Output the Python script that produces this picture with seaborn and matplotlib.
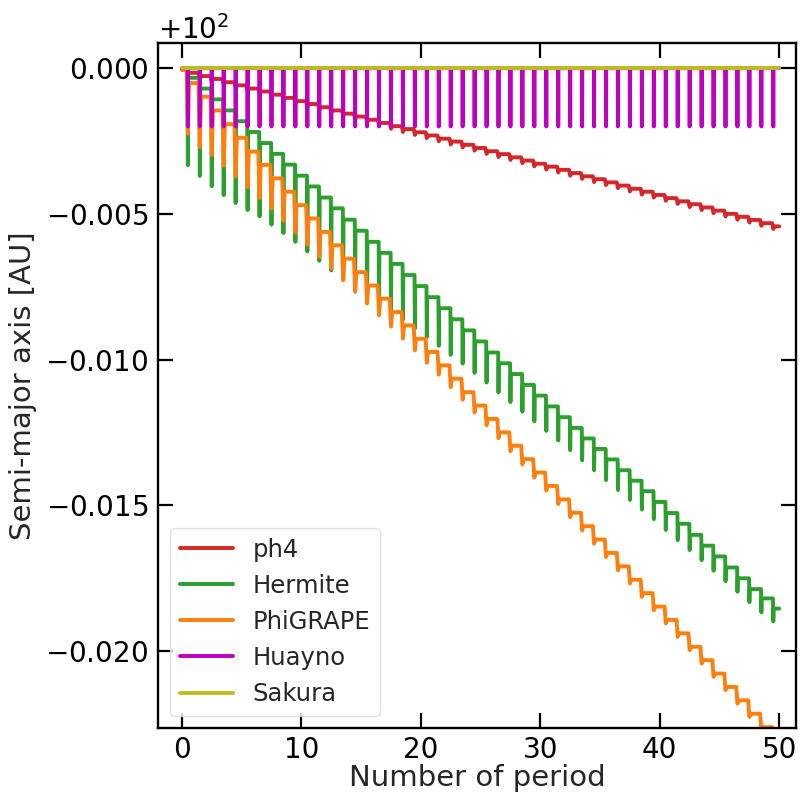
import numpy as np
import matplotlib
matplotlib.use("Agg")
import matplotlib.pyplot as plt
from matplotlib.ticker import ScalarFormatter, MultipleLocator
import seaborn as sns

# semi-major axis minus 100 AU, in units of 1e-3 AU
# *_level: plateau value during orbital period k (51 values, k = 0..50)
# *_dip:   bottom of the pericentre spike between plateau k and k+1 (50 values)
ph4_level = [-0.05, -0.16, -0.27, -0.37, -0.48, -0.59, -0.70, -0.80, -0.91, -1.02,
             -1.13, -1.23, -1.34, -1.45, -1.56, -1.66, -1.77, -1.88, -1.99, -2.09,
             -2.20, -2.31, -2.42, -2.52, -2.63, -2.74, -2.85, -2.95, -3.06, -3.17,
             -3.28, -3.38, -3.49, -3.60, -3.71, -3.81, -3.92, -4.03, -4.14, -4.24,
             -4.35, -4.46, -4.57, -4.67, -4.78, -4.89, -5.00, -5.10, -5.21, -5.32,
             -5.43]
ph4_dip = [-0.25, -0.36, -0.47, -0.57, -0.68, -0.79, -0.90, -1.00, -1.11, -1.22,
           -1.33, -1.43, -1.54, -1.65, -1.76, -1.86, -1.97, -2.08, -2.19, -2.29,
           -2.40, -2.51, -2.62, -2.72, -2.83, -2.94, -3.05, -3.15, -3.26, -3.37,
           -3.48, -3.58, -3.69, -3.80, -3.91, -4.01, -4.12, -4.23, -4.34, -4.44,
           -4.55, -4.66, -4.77, -4.87, -4.98, -5.09, -5.20, -5.30, -5.41, -5.52]

hermite_level = [-0.02, -0.33, -0.70, -1.07, -1.45, -1.82, -2.19, -2.57, -2.94, -3.31,
                 -3.69, -4.06, -4.44, -4.81, -5.20, -5.58, -5.96, -6.34, -6.72, -7.10,
                 -7.48, -7.86, -8.24, -8.62, -9.00, -9.38, -9.76, -10.13, -10.50, -10.87,
                 -11.24, -11.61, -11.98, -12.35, -12.71, -13.07, -13.43, -13.80, -14.16, -14.52,
                 -14.89, -15.27, -15.64, -16.02, -16.39, -16.76, -17.14, -17.51, -17.88, -18.20,
                 -18.55]
hermite_dip = [-3.33, -3.70, -4.05, -4.36, -4.63, -4.87, -5.09, -5.37, -5.66, -5.96,
               -6.29, -6.61, -6.94, -7.26, -7.58, -7.83, -8.09, -8.36, -8.64, -8.93,
               -9.23, -9.53, -9.84, -10.14, -10.46, -10.79, -11.13, -11.46, -11.79, -12.12,
               -12.45, -12.78, -13.11, -13.46, -13.80, -14.14, -14.48, -14.82, -15.15, -15.48,
               -15.85, -16.20, -16.54, -16.89, -17.25, -17.61, -17.97, -18.33, -18.68, -18.99]

phigrape_level = [-0.05, -0.51, -0.98, -1.45, -1.92, -2.39, -2.86, -3.32, -3.78, -4.24,
                  -4.70, -5.16, -5.62, -6.08, -6.54, -7.00, -7.46, -7.91, -8.37, -8.83,
                  -9.29, -9.74, -10.20, -10.66, -11.12, -11.58, -12.04, -12.50, -12.96, -13.42,
                  -13.88, -14.34, -14.80, -15.26, -15.72, -16.18, -16.64, -17.10, -17.56, -18.02,
                  -18.48, -18.94, -19.40, -19.86, -20.32, -20.78, -21.24, -21.70, -22.16, -22.62,
                  -23.08]
phigrape_dip = [-2.25, -2.71, -2.98, -3.35, -3.72, -4.09, -4.46, -4.82, -5.23, -5.64,
                -6.06, -6.48, -6.88, -7.28, -7.68, -8.08, -8.48, -8.87, -9.28, -9.69,
                -10.11, -10.52, -10.95, -11.38, -11.82, -12.26, -12.70, -13.15, -13.60, -14.05,
                -14.50, -14.96, -15.41, -15.87, -16.32, -16.78, -17.24, -17.69, -18.15, -18.61,
                -19.06, -19.52, -19.98, -20.44, -20.89, -21.35, -21.81, -22.27, -22.73, -23.19]

huayno_level = [0.0, 0.0, 0.0, 0.0, 0.0, 0.0, 0.0, 0.0, 0.0, 0.0,
                0.0, 0.0, 0.0, 0.0, 0.0, 0.0, 0.0, 0.0, 0.0, 0.0,
                0.0, 0.0, 0.0, 0.0, 0.0, 0.0, 0.0, 0.0, 0.0, 0.0,
                0.0, 0.0, 0.0, 0.0, 0.0, 0.0, 0.0, 0.0, 0.0, 0.0,
                0.0, 0.0, 0.0, 0.0, 0.0, 0.0, 0.0, 0.0, 0.0, 0.0,
                0.0]
huayno_dip = [-2.0, -2.0, -2.0, -2.0, -2.0, -2.0, -2.0, -2.0, -2.0, -2.0,
              -2.0, -2.0, -2.0, -2.0, -2.0, -2.0, -2.0, -2.0, -2.0, -2.0,
              -2.0, -2.0, -2.0, -2.0, -2.0, -2.0, -2.0, -2.0, -2.0, -2.0,
              -2.0, -2.0, -2.0, -2.0, -2.0, -2.0, -2.0, -2.0, -2.0, -2.0,
              -2.0, -2.0, -2.0, -2.0, -2.0, -2.0, -2.0, -2.0, -2.0, -2.0]

sakura_level = [0.0, 0.0, 0.0, 0.0, 0.0, 0.0, 0.0, 0.0, 0.0, 0.0,
                0.0, 0.0, 0.0, 0.0, 0.0, 0.0, 0.0, 0.0, 0.0, 0.0,
                0.0, 0.0, 0.0, 0.0, 0.0, 0.0, 0.0, 0.0, 0.0, 0.0,
                0.0, 0.0, 0.0, 0.0, 0.0, 0.0, 0.0, 0.0, 0.0, 0.0,
                0.0, 0.0, 0.0, 0.0, 0.0, 0.0, 0.0, 0.0, 0.0, 0.0,
                0.0]

A0 = 100.0  # AU


def build_path(level, dip=None, half_width=0.03):
    # plateau per period, with a narrow spike at each pericentre passage (k + 0.5)
    if dip is None:
        xs = np.arange(len(level), dtype=float)
        return xs, A0 + np.array(level) * 1e-3
    xs, ys = [0.0], [level[0]]
    for k, d in enumerate(dip):
        c = k + 0.5
        xs += [c - half_width, c, c + half_width]
        ys += [level[k], d, level[k + 1]]
    xs.append(float(len(dip)))
    ys.append(level[-1])
    return np.array(xs), A0 + np.array(ys) * 1e-3


sns.set_theme(style="ticks")
plt.rcParams['font.family'] = ['DejaVu Sans']

fig = plt.figure(figsize=(8, 7.96), dpi=100)
ax = fig.add_axes([0.1975, 0.0854, 0.7975, 0.8606])

series = [
    ("ph4", ph4_level, ph4_dip, 0.1, "#d62728"),
    ("Hermite", hermite_level, hermite_dip, 0.03, "#2ca02c"),
    ("PhiGRAPE", phigrape_level, phigrape_dip, 0.1, "#ff7f0e"),
    ("Huayno", huayno_level, huayno_dip, 0.015, "#bf00bf"),
    ("Sakura", sakura_level, None, 0.0, "#bcbd22"),
]
for name, lev, dp, hw, col in series:
    x, y = build_path(lev, dp, hw)
    sns.lineplot(x=x, y=y, ax=ax, color=col, lw=2.8, label=name,
                 sort=False, estimator=None)

ax.set_xlim(-2.0, 51.4)
ax.set_ylim(A0 - 0.02265, A0 + 0.000865)
ax.xaxis.set_major_locator(MultipleLocator(10))
ax.yaxis.set_major_locator(MultipleLocator(0.005))
fmt = ScalarFormatter(useMathText=True, useOffset=A0)
ax.yaxis.set_major_formatter(fmt)
ax.yaxis.get_offset_text().set_fontsize(20)

ax.tick_params(direction='in', length=11, width=1.6, top=True, right=True,
               labelsize=20, colors='black')
ax.tick_params(axis='x', pad=6)
ax.tick_params(axis='y', pad=7)
for sp in ax.spines.values():
    sp.set_linewidth(1.7)
    sp.set_color('black')

ax.set_xlabel("Number of period", fontsize=21, labelpad=0)
ax.set_ylabel("Semi-major axis [AU]", fontsize=21, labelpad=6)

leg = ax.legend(loc='lower left', fontsize=17.5, frameon=True, fancybox=True,
                handlelength=2.2)
leg.get_frame().set_edgecolor('0.85')

fig.savefig("out.png", dpi=100)
